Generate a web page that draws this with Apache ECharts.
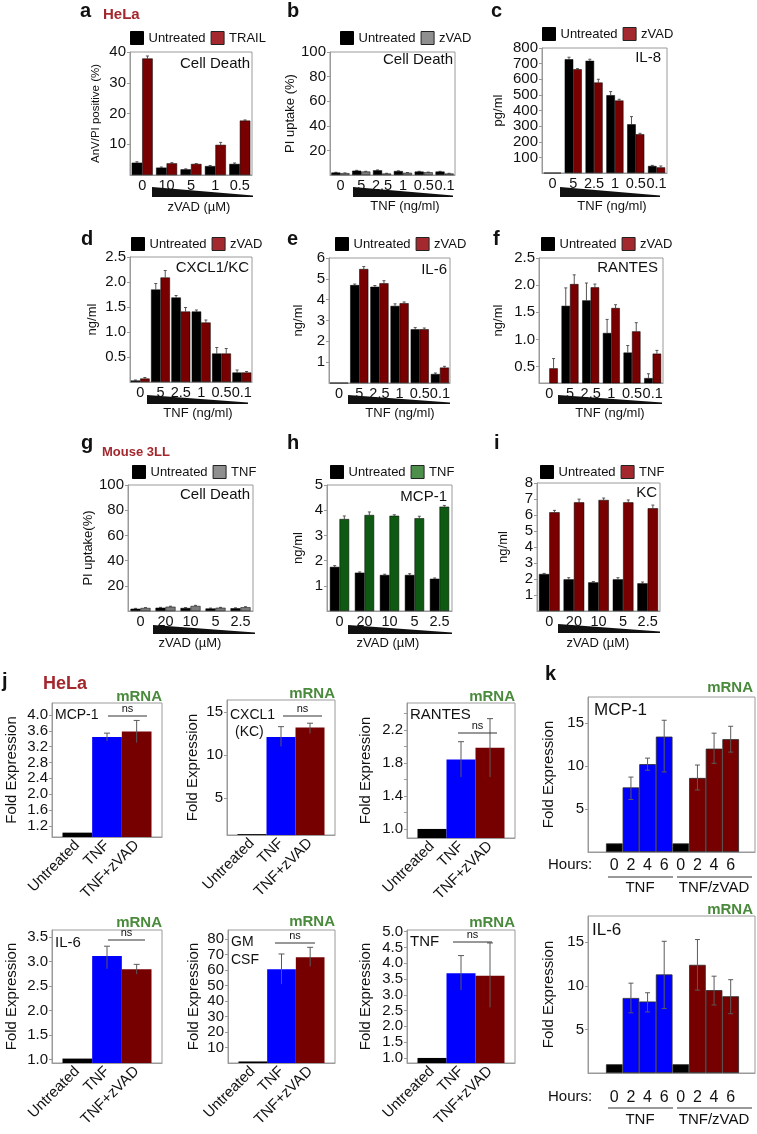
<!DOCTYPE html>
<html><head><meta charset="utf-8">
<script src="https://cdn.jsdelivr.net/npm/echarts@6/dist/echarts.min.js"></script>
<style>html,body{margin:0;padding:0;background:#fff}#c{width:757px;height:1134px}</style>
</head><body><div id="c"></div>
<script>
// ---------------- data ----------------
const catsA = ['0', '10', '5', '1', '0.5'];
const catsTNF = ['0', '5', '2.5', '1', '0.5', '0.1'];
const catsZ = ['0', '20', '10', '5', '2.5'];

const aUntreated = [4.0, 2.4, 1.85, 2.9, 3.6];
const aUntreatedErr = [0.3, 0.2, 0.15, 0.2, 0.3];
const aTrail = [37.9, 3.8, 3.6, 9.8, 17.7];
const aTrailErr = [0.8, 0.2, 0.1, 0.8, 0.2];

const bUntreated = [2.0, 3.5, 3.8, 3.2, 2.8, 2.8];
const bUntreatedErr = [0.2, 0.3, 0.3, 0.2, 0.2, 0.2];
const bZvad = [1.5, 2.8, 1.2, 1.8, 2.2, 1.2];
const bZvadErr = [0.2, 0.2, 0.2, 0.2, 0.2, 0.2];

const cUntreated = [0, 728, 718, 498, 312, 45];
const cUntreatedErr = [0, 13, 10, 23, 49, 4];
const cZvad = [0, 664, 579, 464, 248, 36];
const cZvadErr = [0, 4, 21, 8, 6, 9];

const dUntreated = [0.03, 1.85, 1.69, 1.41, 0.57, 0.19];
const dUntreatedErr = [0.01, 0.12, 0.04, 0.03, 0.12, 0.05];
const dZvad = [0.07, 2.09, 1.41, 1.19, 0.57, 0.19];
const dZvadErr = [0.02, 0.14, 0.08, 0.05, 0.1, 0.02];

const eUntreated = [0, 4.7, 4.62, 3.7, 2.58, 0.43];
const eUntreatedErr = [0, 0.05, 0.06, 0.1, 0.08, 0.05];
const eZvad = [0, 5.47, 4.79, 3.83, 2.58, 0.74];
const eZvadErr = [0, 0.12, 0.12, 0.06, 0.06, 0.06];

const fUntreated = [0, 1.62, 1.72, 1.12, 0.76, 0.29];
const fUntreatedErr = [0, 0.33, 0.32, 0.25, 0.13, 0.08];
const fZvad = [0.47, 2.02, 1.96, 1.58, 1.15, 0.74];
const fZvadErr = [0.18, 0.17, 0.06, 0.06, 0.16, 0.06];

const gUntreated = [1.8, 2.6, 2.4, 2.0, 2.2];
const gUntreatedErr = [0.3, 0.3, 0.3, 0.3, 0.3];
const gTnf = [2.4, 3.4, 4.0, 2.6, 3.0];
const gTnfErr = [0.3, 0.4, 0.5, 0.3, 0.4];

const hUntreated = [1.75, 1.52, 1.43, 1.43, 1.28];
const hUntreatedErr = [0.05, 0.03, 0.03, 0.05, 0.03];
const hTnf = [3.65, 3.81, 3.78, 3.68, 4.14];
const hTnfErr = [0.12, 0.12, 0.04, 0.08, 0.05];

const iUntreated = [2.31, 1.98, 1.79, 1.98, 1.73];
const iUntreatedErr = [0.04, 0.1, 0.05, 0.1, 0.08];
const iTnf = [6.17, 6.79, 6.94, 6.79, 6.42];
const iTnfErr = [0.12, 0.2, 0.12, 0.15, 0.2];

const jCats = ['Untreated', 'TNF', 'TNF+zVAD'];
const jMcp1 = [1.03, 3.44, 3.58], jMcp1Lo = [1.03, 3.34, 3.30], jMcp1Hi = [1.03, 3.54, 3.86];
const jCxcl1 = [0.8, 12.1, 13.2], jCxcl1Lo = [0.8, 11.0, 12.5], jCxcl1Hi = [0.8, 13.3, 13.7];
const jRantes = [1.0, 1.845, 1.985], jRantesLo = [1.0, 1.63, 1.63], jRantesHi = [1.0, 2.06, 2.34];
const jIl6 = [1.02, 3.11, 2.84], jIl6Lo = [1.02, 2.85, 2.74], jIl6Hi = [1.02, 3.31, 2.94];
const jGmcsf = [1, 60.6, 68.3], jGmcsfLo = [1, 51, 62.5], jGmcsfHi = [1, 70.5, 74.8];
const jTnf = [1.0, 3.68, 3.6], jTnfLo = [1.0, 3.15, 2.6], jTnfHi = [1.0, 4.24, 4.64];

const jMcp1Ticks = [1.2, 1.6, 2.0, 2.4, 2.8, 3.2, 3.6, 4.0];
const jCxcl1Ticks = [5, 10, 15];
const jRantesTicks = [1.0, 1.4, 1.8, 2.2];
const jRantesMinor = [1.0, 1.2, 1.4, 1.6, 1.8, 2.0, 2.2, 2.4];
const jIl6Ticks = [1.0, 1.5, 2.0, 2.5, 3.0, 3.5];
const jGmcsfTicks = [10, 20, 30, 40, 50, 60, 70, 80];
const jTnfTicks = [1.0, 1.5, 2.0, 2.5, 3.0, 3.5, 4.0, 4.5, 5.0];
const fTicks = [0.5, 1.0, 1.5, 2.0, 2.5];

const kHours = ['0', '2', '4', '6', '0', '2', '4', '6'];
const kMcp1 = [1, 7.5, 10.2, 13.4, 1, 8.6, 12.0, 13.1];
const kMcp1Lo = [1, 6.1, 9.5, 9.3, 1, 7.2, 10.3, 11.6];
const kMcp1Hi = [1, 8.7, 10.9, 15.3, 1, 10.1, 13.8, 14.6];
const kIl6 = [1, 8.6, 8.2, 11.3, 1, 12.4, 9.5, 8.8];
const kIl6Lo = [1, 6.9, 7.0, 7.4, 1, 9.5, 7.8, 6.8];
const kIl6Hi = [1, 10.3, 9.2, 15.1, 1, 15.3, 11.1, 10.7];
const kTicks = [5, 10, 15];

// ---------------- style ----------------
const FONT = "'Liberation Sans', Arial, Helvetica, sans-serif";
const RED = '#780000', LEGRED = '#a3292e', GREY = '#7a7a7a', LEGGREY = '#8f8f8f';
const GREEN = '#0f5a12', LEGGREEN = '#4e8f4b', BLUE = '#0000ff';
const TITLE_RED = '#a3282e', MRNA_GREEN = '#4a8a3c';
const AX = '#9a9a9a', TXT = '#111';
const jColors = ['#000000', BLUE, '#760000'];
const kColors = ['#000000', BLUE, BLUE, BLUE, '#000000', '#760000', '#760000', '#760000'];

const option = {
  animation: false,
  backgroundColor: '#fff',
  textStyle: { fontFamily: FONT },
  grid: [], xAxis: [], yAxis: [], series: [], legend: [], graphic: []
};
const G = option.graphic;

function T(x, y, text, size, o) {
  o = o || {};
  G.push({ type: 'text', x: x, y: y, silent: true, z: 10,
    style: { text: text, fill: o.fill || TXT, fontSize: size, fontFamily: FONT,
      fontWeight: o.bold ? 'bold' : 'normal', align: o.align || 'left', verticalAlign: 'middle' } });
}
function L(x1, y1, x2, y2, c) {
  G.push({ type: 'line', silent: true, z: 10, shape: { x1: x1, y1: y1, x2: x2, y2: y2 }, style: { stroke: c || '#333', lineWidth: 1 } });
}
function wedge(x0, x1, yT, yB) {
  G.push({ type: 'polygon', silent: true, z: 10, shape: { points: [[x0, yT], [x1, yB - 1.5], [x1, yB], [x0, yB]] }, style: { fill: '#111' } });
}

function gridBox(b) {
  option.grid.push({ left: b[0], top: b[1], width: b[2], height: b[3], show: true, borderColor: AX, borderWidth: 1 });
  return option.grid.length - 1;
}

function errRenderGrouped(sign, gap) {
  return function (params, api) {
    const x = api.value(0), v = api.value(1), e = api.value(2);
    if (!(e > 0)) return null;
    const band = api.size([1, 0])[0];
    const bw = band * (1 - gap) / 2;
    const p0 = api.coord([x, v]), p1 = api.coord([x, v + e]);
    const cx = p0[0] + sign * bw / 2;
    return { type: 'group', children: [
      { type: 'line', shape: { x1: cx, y1: p0[1], x2: cx, y2: p1[1] }, style: { stroke: '#555', lineWidth: 1 } },
      { type: 'line', shape: { x1: cx - 1.5, y1: p1[1], x2: cx + 1.5, y2: p1[1] }, style: { stroke: '#555', lineWidth: 1 } }
    ] };
  };
}

function grouped(p) {
  const gi = gridBox(p.box);
  option.xAxis.push({ type: 'category', gridIndex: gi, data: p.cats,
    axisLine: { show: true, onZero: false, lineStyle: { color: AX } }, axisTick: { show: false },
    axisLabel: { fontSize: 14.5, color: TXT, margin: 3, interval: 0 } });
  const ya = { type: 'value', gridIndex: gi, min: p.yMin, max: p.yMax,
    splitLine: { show: false },
    axisLine: { show: true, onZero: false, lineStyle: { color: AX } },
    axisTick: { show: true, length: 3, lineStyle: { color: AX } },
    axisLabel: { fontSize: 15, color: TXT, margin: 4, showMinLabel: false },
    name: p.yName, nameLocation: 'middle', nameRotate: 90, nameGap: p.nameGap,
    nameTextStyle: { fontSize: p.nameSize || 13, color: TXT } };
  if (p.interval) ya.interval = p.interval;
  if (p.fmt) ya.axisLabel.formatter = p.fmt;
  if (p.yLabels) { ya.axisLabel.customValues = p.yLabels; ya.axisTick.customValues = p.yLabels; ya.axisLabel.showMinLabel = true; }
  option.yAxis.push(ya);
  const gapStr = Math.round(p.gap * 100) + '%';
  [p.s1, p.s2].forEach(function (s) {
    option.series.push({ type: 'bar', name: s.name, xAxisIndex: gi, yAxisIndex: gi, data: s.data,
      barGap: '0%', barCategoryGap: gapStr, clip: true,
      itemStyle: { color: s.color, borderColor: '#000', borderWidth: 0.5 } });
  });
  [p.s1, p.s2].forEach(function (s, k) {
    option.series.push({ type: 'custom', name: s.name + ' error', xAxisIndex: gi, yAxisIndex: gi, silent: true,
      renderItem: errRenderGrouped(k === 0 ? -1 : 1, p.gap),
      encode: { x: 0, y: 1 },
      data: s.data.map(function (v, i) { return [i, v, s.err[i]]; }) });
  });
  option.legend.push({ left: p.leg[0], top: p.leg[1], padding: 0, itemWidth: 13, itemHeight: 13, itemGap: 5,
    selectedMode: false, icon: 'rect', textStyle: { fontSize: 13, color: TXT },
    data: [{ name: p.s1.name, itemStyle: { color: '#000', borderColor: '#000', borderWidth: 1 } },
           { name: p.s2.name, itemStyle: { color: p.s2.leg, borderColor: '#222', borderWidth: 1 } }] });
}

function errRenderRange(cap, bothCaps, color) {
  return function (params, api) {
    const x = api.value(0), lo = api.value(1), hi = api.value(2);
    if (!(hi > lo)) return null;
    const a = api.coord([x, lo]), b = api.coord([x, hi]);
    const ch = [
      { type: 'line', shape: { x1: a[0], y1: a[1], x2: b[0], y2: b[1] }, style: { stroke: color, lineWidth: 1 } },
      { type: 'line', shape: { x1: b[0] - cap, y1: b[1], x2: b[0] + cap, y2: b[1] }, style: { stroke: color, lineWidth: 1 } }
    ];
    if (bothCaps) ch.push({ type: 'line', shape: { x1: a[0] - cap, y1: a[1], x2: a[0] + cap, y2: a[1] }, style: { stroke: color, lineWidth: 1 } });
    return { type: 'group', children: ch };
  };
}

function contiguous(p) {
  const gi = gridBox(p.box);
  const n = p.vals.length;
  const unit = (p.box[2] - p.padL - p.padR) / n;
  option.xAxis.push({ type: 'value', gridIndex: gi, min: -0.5 - p.padL / unit, max: n - 0.5 + p.padR / unit,
    splitLine: { show: false }, axisLine: { show: true, onZero: false, lineStyle: { color: AX } }, axisTick: { show: false },
    axisLabel: Object.assign({ customValues: p.vals.map(function (v, i) { return i; }),
      formatter: function (v) { return p.names[Math.round(v)]; }, color: TXT }, p.xLabel) });
  const ya = { type: 'value', gridIndex: gi, min: p.yMin, max: p.yMax, splitLine: { show: false },
    axisLine: { show: true, onZero: false, lineStyle: { color: AX } },
    axisTick: { show: true, length: 3, lineStyle: { color: AX }, customValues: p.yTicks || p.yLabels },
    axisLabel: { fontSize: 15, color: TXT, margin: 4, customValues: p.yLabels, formatter: p.fmt || function (v) { return String(v); } },
    name: 'Fold Expression', nameLocation: 'middle', nameRotate: 90, nameGap: p.nameGap,
    nameTextStyle: { fontSize: 15, color: TXT } };
  option.yAxis.push(ya);
  option.series.push({ type: 'bar', name: p.name, xAxisIndex: gi, yAxisIndex: gi, barWidth: '100%', clip: true,
    data: p.vals.map(function (v, i) { return { value: [i, v], itemStyle: { color: p.colors[i] } }; }),
    itemStyle: p.border ? { borderColor: '#2a2a2a', borderWidth: 0.8 } : {} });
  option.series.push({ type: 'custom', name: p.name + ' error', xAxisIndex: gi, yAxisIndex: gi, silent: true, z: 3,
    renderItem: errRenderRange(p.cap, p.bothCaps, '#5a5a5a'), encode: { x: 0, y: [1, 2] },
    data: p.vals.map(function (v, i) { return [i, p.lo[i], p.hi[i]]; }) });
}

const f1 = function (v) { return v.toFixed(1); };

// ---------------- panels a-i ----------------
grouped({ box: [130, 52, 122, 123], cats: catsA, gap: 0.14, yMin: 0, yMax: 40, interval: 10,
  yName: 'AnV/PI positive (%)', nameGap: 28, nameSize: 11.5, leg: [130, 31],
  s1: { name: 'Untreated', data: aUntreated, err: aUntreatedErr, color: '#000' },
  s2: { name: 'TRAIL', data: aTrail, err: aTrailErr, color: RED, leg: LEGRED } });
grouped({ box: [330, 52, 125, 123], cats: catsTNF, gap: 0.13, yMin: 0, yMax: 100, interval: 20,
  yName: 'PI uptake (%)', nameGap: 31, leg: [340, 31],
  s1: { name: 'Untreated', data: bUntreated, err: bUntreatedErr, color: '#000' },
  s2: { name: 'zVAD', data: bZvad, err: bZvadErr, color: GREY, leg: LEGGREY } });
grouped({ box: [542, 48, 125, 125], cats: catsTNF, gap: 0.18, yMin: 0, yMax: 800, interval: 100,
  yName: 'pg/ml', nameGap: 37, leg: [542, 27],
  s1: { name: 'Untreated', data: cUntreated, err: cUntreatedErr, color: '#000' },
  s2: { name: 'zVAD', data: cZvad, err: cZvadErr, color: RED, leg: LEGRED } });
grouped({ box: [130, 257, 122, 125], cats: catsTNF, gap: 0.07, yMin: 0, yMax: 2.5, interval: 0.5, fmt: f1,
  yName: 'ng/ml', nameGap: 31, leg: [131, 237],
  s1: { name: 'Untreated', data: dUntreated, err: dUntreatedErr, color: '#000' },
  s2: { name: 'zVAD', data: dZvad, err: dZvadErr, color: RED, leg: LEGRED } });
grouped({ box: [329, 258, 121, 125], cats: catsTNF, gap: 0.1, yMin: 0, yMax: 6, interval: 1,
  yName: 'ng/ml', nameGap: 24, leg: [335, 237],
  s1: { name: 'Untreated', data: eUntreated, err: eUntreatedErr, color: '#000' },
  s2: { name: 'zVAD', data: eZvad, err: eZvadErr, color: RED, leg: LEGRED } });
grouped({ box: [539, 258, 124, 125], cats: catsTNF, gap: 0.18, yMin: 0.2, yMax: 2.5, yLabels: fTicks, fmt: f1,
  yName: 'ng/ml', nameGap: 34, leg: [541, 237],
  s1: { name: 'Untreated', data: fUntreated, err: fUntreatedErr, color: '#000' },
  s2: { name: 'zVAD', data: fZvad, err: fZvadErr, color: RED, leg: LEGRED } });
grouped({ box: [128, 485, 125, 126], cats: catsZ, gap: 0.2, yMin: 0, yMax: 100, interval: 20,
  yName: 'PI uptake(%)', nameGap: 33, leg: [132, 465],
  s1: { name: 'Untreated', data: gUntreated, err: gUntreatedErr, color: '#000' },
  s2: { name: 'TNF', data: gTnf, err: gTnfErr, color: GREY, leg: LEGGREY } });
grouped({ box: [327, 485, 125, 126], cats: catsZ, gap: 0.23, yMin: 0, yMax: 5, interval: 1,
  yName: 'ng/ml', nameGap: 22, leg: [330, 465],
  s1: { name: 'Untreated', data: hUntreated, err: hUntreatedErr, color: '#000' },
  s2: { name: 'TNF', data: hTnf, err: hTnfErr, color: GREEN, leg: LEGGREEN } });
grouped({ box: [537, 483, 123, 128], cats: catsZ, gap: 0.16, yMin: 0, yMax: 8, interval: 1,
  yName: 'ng/ml', nameGap: 27, leg: [540, 465],
  s1: { name: 'Untreated', data: iUntreated, err: iUntreatedErr, color: '#000' },
  s2: { name: 'TNF', data: iTnf, err: iTnfErr, color: RED, leg: LEGRED } });

// ---------------- panel j ----------------
const jX = { rotate: 45, fontSize: 15, margin: 6 };
function jPanel(box, vals, lo, hi, yMin, yMax, yLabels, fmt, nameGap, yTicks) {
  contiguous({ box: box, vals: vals, lo: lo, hi: hi, names: jCats, colors: jColors, padL: 10.5, padR: 10.5,
    yMin: yMin, yMax: yMax, yLabels: yLabels, yTicks: yTicks, fmt: fmt, nameGap: nameGap, xLabel: jX,
    cap: 3, bothCaps: false, name: 'mRNA' });
}
jPanel([52, 703, 110, 134], jMcp1, jMcp1Lo, jMcp1Hi, 0.92, 4.3, jMcp1Ticks, f1, 33);
jPanel([227, 700, 108, 135], jCxcl1, jCxcl1Lo, jCxcl1Hi, 0.7, 16.4, jCxcl1Ticks, null, 27);
jPanel([407, 703, 108, 135], jRantes, jRantesLo, jRantesHi, 0.89, 2.53, jRantesTicks, f1, 34, jRantesMinor);
jPanel([52, 930, 110, 133], jIl6, jIl6Lo, jIl6Hi, 0.93, 3.64, jIl6Ticks, f1, 33);
jPanel([228, 930, 107, 133], jGmcsf, jGmcsfLo, jGmcsfHi, 0, 86, jGmcsfTicks, null, 27);
jPanel([407, 930, 108, 133], jTnf, jTnfLo, jTnfHi, 0.84, 5.05, jTnfTicks, f1, 34);

// ---------------- panel k ----------------
contiguous({ box: [588, 697, 167, 155], vals: kMcp1, lo: kMcp1Lo, hi: kMcp1Hi, names: kHours, colors: kColors,
  padL: 18, padR: 16, yMin: 0, yMax: 18, yLabels: kTicks, nameGap: 32, border: true,
  xLabel: { fontSize: 16, margin: 6 }, cap: 2.5, bothCaps: true, name: 'MCP-1 mRNA' });
contiguous({ box: [588, 916, 167, 157], vals: kIl6, lo: kIl6Lo, hi: kIl6Hi, names: kHours, colors: kColors,
  padL: 18, padR: 16, yMin: 0, yMax: 18, yLabels: kTicks, nameGap: 32, border: true,
  xLabel: { fontSize: 16, margin: 17 }, cap: 2.5, bothCaps: true, name: 'IL-6 mRNA' });

// ---------------- annotations ----------------
const LB = { bold: true };
T(80, 11, 'a', 20, LB); T(287, 11, 'b', 20, LB); T(491, 11, 'c', 20, LB);
T(81, 239, 'd', 20, LB); T(287, 239, 'e', 20, LB); T(493, 239, 'f', 20, LB);
T(81, 443, 'g', 20, LB); T(287, 443, 'h', 20, LB); T(494, 443, 'i', 20, LB);
T(2, 681, 'j', 20, LB); T(545, 674, 'k', 20, LB);
T(103, 15, 'HeLa', 15, { bold: true, fill: TITLE_RED });
T(102, 452, 'Mouse 3LL', 13, { bold: true, fill: TITLE_RED });
T(43, 684, 'HeLa', 18, { bold: true, fill: TITLE_RED });

// inside labels a-i
T(250, 64, 'Cell Death', 15, { align: 'right' });
T(453, 60, 'Cell Death', 15, { align: 'right' });
T(661, 58, 'IL-8', 15, { align: 'right' });
T(249, 268, 'CXCL1/KC', 15, { align: 'right' });
T(447, 270, 'IL-6', 15, { align: 'right' });
T(658, 268, 'RANTES', 15, { align: 'right' });
T(250, 495, 'Cell Death', 15, { align: 'right' });
T(447, 497, 'MCP-1', 15, { align: 'right' });
T(657, 493, 'KC', 15, { align: 'right' });

// wedges + axis titles
wedge(152, 253, 187, 197); T(199, 207, 'zVAD (µM)', 13, { align: 'center' });
wedge(353, 453, 187, 197); T(405, 206, 'TNF (ng/ml)', 13, { align: 'center' });
wedge(560, 660, 187, 197); T(612, 206, 'TNF (ng/ml)', 13, { align: 'center' });
wedge(147, 248, 395, 404); T(198, 413, 'TNF (ng/ml)', 13, { align: 'center' });
wedge(348, 450, 395, 404); T(400, 413, 'TNF (ng/ml)', 13, { align: 'center' });
wedge(558, 662, 395, 404); T(610, 413, 'TNF (ng/ml)', 13, { align: 'center' });
wedge(153, 255, 625, 634); T(190, 643, 'zVAD (µM)', 13, { align: 'center' });
wedge(348, 452, 625, 634); T(388, 643, 'zVAD (µM)', 13, { align: 'center' });
wedge(558, 660, 624, 633); T(598, 643, 'zVAD (µM)', 13, { align: 'center' });

// j labels
const MG = { bold: true, fill: MRNA_GREEN, align: 'right' };
T(162, 697, 'mRNA', 15, MG); T(335, 694, 'mRNA', 15, MG); T(515, 697, 'mRNA', 15, MG);
T(162, 923, 'mRNA', 15, MG); T(335, 922, 'mRNA', 15, MG); T(515, 923, 'mRNA', 15, MG);
T(753, 688, 'mRNA', 15, MG); T(753, 910, 'mRNA', 15, MG);
T(55, 715, 'MCP-1', 14); T(230, 715, 'CXCL1', 14); T(235, 732, '(KC)', 14); T(410, 715, 'RANTES', 15);
T(55, 943, 'IL-6', 15); T(231, 942, 'GM', 14); T(231, 960, 'CSF', 14); T(410, 942, 'TNF', 15);
T(594, 710, 'MCP-1', 17); T(592, 930, 'IL-6', 17);
// ns
function ns(x1, x2, y) { L(x1, y, x2, y, '#333'); T((x1 + x2) / 2, y - 7, 'ns', 11, { align: 'center' }); }
ns(108, 147, 716); ns(283, 322, 716); ns(458, 497, 733);
ns(108, 145, 940); ns(275, 315, 943); ns(453, 492, 942);

// k hours annotations
T(548, 865, 'Hours:', 15); L(608, 877, 673, 877, '#333'); L(677, 877, 752, 877, '#333');
T(640, 888, 'TNF', 15, { align: 'center' }); T(714, 888, 'TNF/zVAD', 15, { align: 'center' });
T(548, 1097, 'Hours:', 15); L(608, 1108, 673, 1108, '#333'); L(677, 1108, 752, 1108, '#333');
T(640, 1120, 'TNF', 15, { align: 'center' }); T(714, 1120, 'TNF/zVAD', 15, { align: 'center' });

const chart = echarts.init(document.getElementById('c'), null, { renderer: 'canvas' });
chart.setOption(option);
</script></body></html>
